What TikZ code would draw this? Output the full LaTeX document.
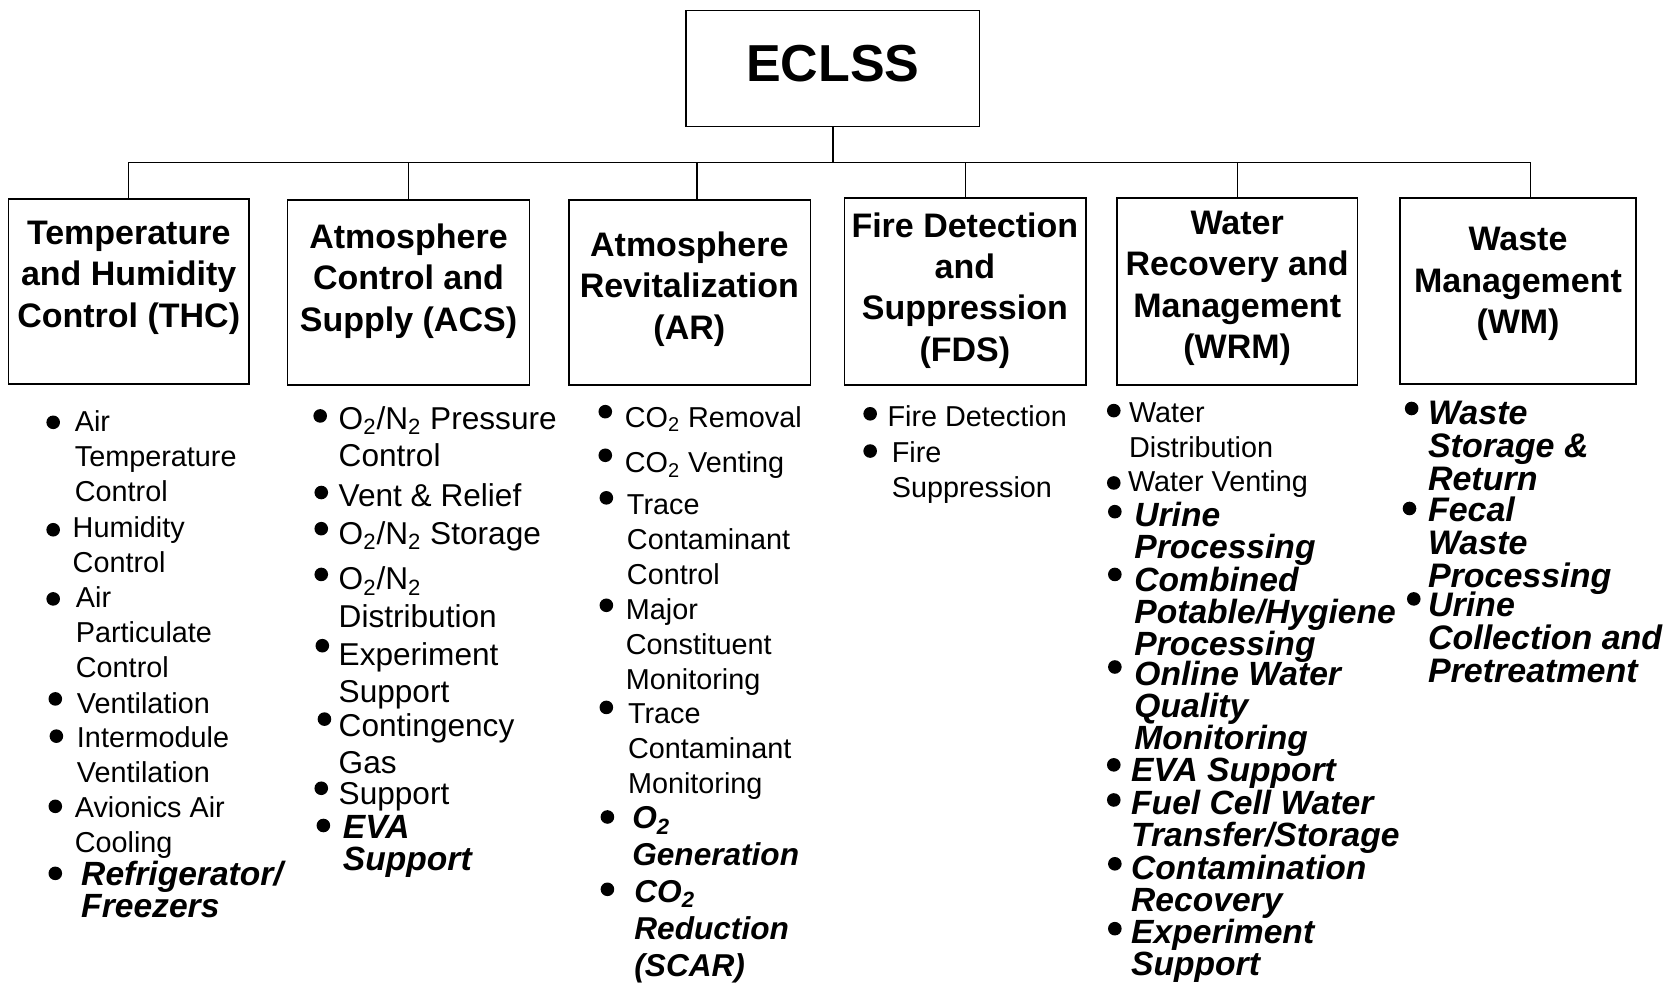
\documentclass[tikz,border=0pt]{standalone}
\usepackage{fontspec}
\setmainfont{Liberation Sans}
\usetikzlibrary{fit,positioning}
\tikzset{
    every picture/.style={line join=miter},
    catbox/.style={draw,line width=0.65pt,inner sep=0pt},
    toptext/.style={font=\bfseries\fontsize{26}{30}\selectfont,inner sep=0pt},
    cattext/.style={font=\bfseries\fontsize{17}{20.7}\selectfont,align=center,inner sep=0pt},
    plainitem/.style={font=\fontsize{14.4}{17.5}\selectfont,inner sep=0pt,anchor=mid west,yshift=-2.4pt},
    plainbig/.style={plainitem,font=\fontsize{15.8}{18.6}\selectfont},
    italitem/.style={plainitem,font=\bfseries\itshape\fontsize{16.8}{16}\selectfont,yshift=-0.8pt},
    italwide/.style={plainitem,font=\bfseries\itshape\fontsize{15.8}{18.6}\selectfont,yshift=-0.8pt},
    italwm/.style={plainitem,font=\bfseries\itshape\fontsize{17}{16.5}\selectfont,yshift=-0.8pt},
    connector/.style={draw,line width=0.65pt}
}
\newcommand{\sub}[1]{\textsubscript{#1}}
% lines stacked under the first one, baseline on the first line
\newcommand{\itemlines}[1]{\vtop{\let\\\cr\halign{##\hfil\cr#1\crcr}}}

\begin{document}
\begin{tikzpicture}[x=0.5319pt,y=-0.5319pt]
  \useasboundingbox (0,0) rectangle (1568,928);

  % top and the six groups
  \node[catbox,fit={(645,10)(921,119)}] (eclss) {};
  \node[toptext] (eclss-t) at (783,60) {ECLSS};
  \node[catbox,fit={(8,187)(234,361)}] (thc) {};
  \node[catbox,fit={(270,188)(498,362)}] (acs) {};
  \node[catbox,fit={(535,188)(762,362)}] (ar) {};
  \node[catbox,fit={(794,186)(1021,362)}] (fds) {};
  \node[catbox,fit={(1050,186)(1276,362)}] (wrm) {};
  \node[catbox,fit={(1316,186)(1538,361)}] (wm) {};
  \node[cattext] (thc-t) at (121,261) {Temperature\\and Humidity\\Control (THC)};
  \node[cattext] (acs-t) at (384,264) {Atmosphere\\Control and\\Supply (ACS)};
  \node[cattext] (ar-t) at (648,271.5) {Atmosphere\\Revitalization\\(AR)};
  \node[cattext] (fds-t) at (907,273) {Fire Detection\\and\\Suppression\\(FDS)};
  \node[cattext] (wrm-t) at (1163,271) {Water\\Recovery and\\Management\\(WRM)};
  \node[cattext] (wm-t) at (1427,267) {Waste\\Management\\(WM)};

  % tree lines
  \coordinate (bus) at (783,153);
  \draw[connector] (eclss.south) -- (bus);
  \draw[connector] (bus) -| (thc.north);
  \draw[connector] (bus) -| (acs.north);
  \draw[connector] (bus) -| ([xshift=3.5pt]ar.north);
  \draw[connector] (bus) -| (fds.north);
  \draw[connector] (bus) -| (wrm.north);
  \draw[connector] (bus) -| ([xshift=6.4pt]wm.north);

  % THC
  \foreach \bx/\by/\tx/\ty/\st/\txt [count=\i] in {
    50/397/70/396/plainitem/{Air\\Temperature\\Control},
    50/498/68/496/plainitem/{Humidity\\Control},
    50/563/71/562/plainitem/{Air\\Particulate\\Control},
    52/657/72/661/plainitem/{Ventilation},
    53/692/72/693/plainitem/{Intermodule\\Ventilation},
    52/758/70/759/plainitem/{Avionics Air\\Cooling},
    52/821/76/821/italitem/{Refrigerator/\\Freezers}}{
    \fill (\bx,\by) circle[radius=3.4pt];
    \node[\st] (thc-\i) at (\tx,\ty) {\itemlines{\txt}};
  }

  % ACS
  \foreach \bx/\by/\tx/\ty/\st/\txt [count=\i] in {
    301/391/318/394/plainbig/{O\sub{2}/N\sub{2} Pressure\\Control},
    302/463/318/467/plainbig/{Vent \& Relief},
    302/497/318/502/plainbig/{O\sub{2}/N\sub{2} Storage},
    302/540/318/545/plainbig/{O\sub{2}/N\sub{2}\\Distribution},
    303/607/318/616/plainbig/{Experiment\\Support},
    305/676/318/683/plainbig/{Contingency\\Gas},
    302/741/318/747/plainbig/{Support},
    304/776/322/777/italitem/{EVA\\Support}}{
    \fill (\bx,\by) circle[radius=3.4pt];
    \node[\st] (acs-\i) at (\tx,\ty) {\itemlines{\txt}};
  }

  % AR
  \foreach \bx/\by/\tx/\ty/\st/\txt [count=\i] in {
    569/387/587/392/plainitem/{CO\sub{2} Removal},
    569/428/587/435/plainitem/{CO\sub{2} Venting},
    570/468/589/474/plainitem/{Trace\\Contaminant\\Control},
    570/569/588/573/plainitem/{Major\\Constituent\\Monitoring},
    570/665/590/671/plainitem/{Trace\\Contaminant\\Monitoring},
    571/768/594/768/italwide/{O\sub{2}\\Generation},
    571/836/596/837/italwide/{CO\sub{2}\\Reduction\\(SCAR)}}{
    \fill (\bx,\by) circle[radius=3.4pt];
    \node[\st] (ar-\i) at (\tx,\ty) {\itemlines{\txt}};
  }

  % FDS
  \foreach \bx/\by/\tx/\ty/\st/\txt [count=\i] in {
    818/389/834/391/plainitem/{Fire Detection},
    818/424/838/425/plainitem/{Fire\\Suppression}}{
    \fill (\bx,\by) circle[radius=3.4pt];
    \node[\st] (fds-\i) at (\tx,\ty) {\itemlines{\txt}};
  }

  % WRM
  \foreach \bx/\by/\tx/\ty/\st/\txt [count=\i] in {
    1047/386/1061/388/plainitem/{Water\\Distribution},
    1047/454/1060/453/plainitem/{Water Venting},
    1048/481/1066/484/italitem/{Urine\\Processing},
    1048/540/1066/545/italitem/{Combined\\Potable/Hygiene\\Processing},
    1048/627/1066/633/italitem/{Online Water\\Quality\\Monitoring},
    1047/719/1063/724/italitem/{EVA Support},
    1047/752/1063/755/italitem/{Fuel Cell Water\\Transfer/Storage},
    1048/812/1063/816/italitem/{Contamination\\Recovery},
    1048/873/1063/876/italitem/{Experiment\\Support}}{
    \fill (\bx,\by) circle[radius=3.4pt];
    \node[\st] (wrm-\i) at (\tx,\ty) {\itemlines{\txt}};
  }

  % WM
  \foreach \bx/\by/\tx/\ty/\st/\txt [count=\i] in {
    1327/384/1342/388/italwm/{Waste\\Storage \&\\Return},
    1325/478/1342/479/italwm/{Fecal\\Waste\\Processing},
    1329/563/1342/569/italwm/{Urine\\Collection and\\Pretreatment}}{
    \fill (\bx,\by) circle[radius=3.4pt];
    \node[\st] (wm-\i) at (\tx,\ty) {\itemlines{\txt}};
  }
\end{tikzpicture}
\end{document}
